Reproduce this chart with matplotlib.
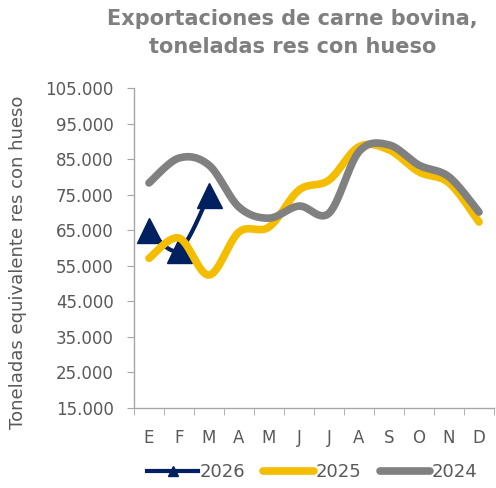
import numpy as np
import matplotlib
matplotlib.use("Agg")
import matplotlib.pyplot as plt
from matplotlib.lines import Line2D
from matplotlib.ticker import FuncFormatter, FixedLocator

meses = ["E", "F", "M", "A", "M", "J", "J", "A", "S", "O", "N", "D"]
exp_2026 = [65000, 59400, 74900]
exp_2025 = [57100, 62800, 52400, 64500, 65900, 76300, 79100, 88500, 87600, 81400, 78300, 67300]
exp_2024 = [78300, 85300, 83300, 71500, 68400, 71800, 69800, 87100, 89000, 83300, 80000, 70100]

NAVY = "#002060"
YELLOW = "#f5bd00"
GRAY = "#808080"
TXT = "#595959"


def smooth(xs, ys, n=30):
    # Excel style smoothing: cubic bezier, control points at 1/6 of neighbours
    # done in roughly screen-proportional units so the curve shape matches
    sx, sy = 30.0, 320.0 / 90000
    P = np.column_stack([np.asarray(xs, float) * sx, np.asarray(ys, float) * sy])
    out = [P[0]]
    for i in range(len(P) - 1):
        p0 = P[i - 1] if i > 0 else P[i]
        p1, p2 = P[i], P[i + 1]
        p3 = P[i + 2] if i + 2 < len(P) else P[i + 1]
        c1 = p1 + (p2 - p0) / 6
        c2 = p2 - (p3 - p1) / 6
        t = np.linspace(0, 1, n)[1:, None]
        seg = (1 - t) ** 3 * p1 + 3 * (1 - t) ** 2 * t * c1 + 3 * (1 - t) * t ** 2 * c2 + t ** 3 * p2
        out.extend(seg)
    out = np.array(out)
    return out[:, 0] / sx, out[:, 1] / sy


fig = plt.figure(figsize=(4.96, 4.88), dpi=100)
ax = fig.add_axes([134 / 496, 1 - 408 / 488, 360 / 496, 320 / 488])

x26 = np.arange(len(exp_2026))
x25 = np.arange(len(exp_2025))
x24 = np.arange(len(exp_2024))

sx, sy = smooth(x26, exp_2026)
ax.plot(sx, sy, color=NAVY, lw=3, solid_capstyle="round", zorder=2)
ax.plot(x26, exp_2026, ls="none", marker="^", ms=18, color=NAVY, zorder=2)
sx, sy = smooth(x25, exp_2025)
ax.plot(sx, sy, color=YELLOW, lw=5.5, solid_capstyle="round", zorder=3)
sx, sy = smooth(x24, exp_2024)
ax.plot(sx, sy, color=GRAY, lw=5.5, solid_capstyle="round", zorder=4)

ax.set_xlim(-0.5, len(meses) - 0.5)
ax.set_ylim(15000, 105000)
ax.set_yticks(np.arange(15000, 105001, 10000))
ax.yaxis.set_major_formatter(FuncFormatter(lambda v, p: f"{int(v):,}".replace(",", ".")))
ax.set_xticks(x25)
ax.set_xticklabels(meses)
ax.xaxis.set_minor_locator(FixedLocator(np.arange(-0.5, len(meses), 1)))
ax.tick_params(axis="x", which="major", length=0, pad=15, labelsize=12, labelcolor=TXT)
ax.tick_params(axis="x", which="minor", length=5, color="#a6a6a6", direction="out")
ax.tick_params(axis="y", length=5, color="#a6a6a6", labelsize=12, labelcolor=TXT, pad=9.5)

for s in ["top", "right"]:
    ax.spines[s].set_visible(False)
for s in ["left", "bottom"]:
    ax.spines[s].set_color("#a6a6a6")
    ax.spines[s].set_linewidth(1)

ax.set_ylabel("Toneladas equivalente res con hueso", fontsize=13, color=TXT)
ax.yaxis.set_label_coords(-0.297, 0.456)

fig.text(0.59, 0.982, "Exportaciones de carne bovina,\ntoneladas res con hueso",
         ha="center", va="top", fontsize=15, fontweight="bold", color="#7f7f7f",
         linespacing=1.5)

handles = [
    Line2D([], [], color=NAVY, lw=3, marker="^", ms=7),
    Line2D([], [], color=YELLOW, lw=5.5, solid_capstyle="round"),
    Line2D([], [], color=GRAY, lw=5.5, solid_capstyle="round"),
]
fig.legend(handles, ["2026", "2025", "2024"], loc="center", bbox_to_anchor=(0.63, 0.033),
           ncol=3, frameon=False, fontsize=13, labelcolor=TXT, handlelength=2.8,
           handletextpad=0.1, columnspacing=1.0)

fig.savefig("out.png", dpi=100)
